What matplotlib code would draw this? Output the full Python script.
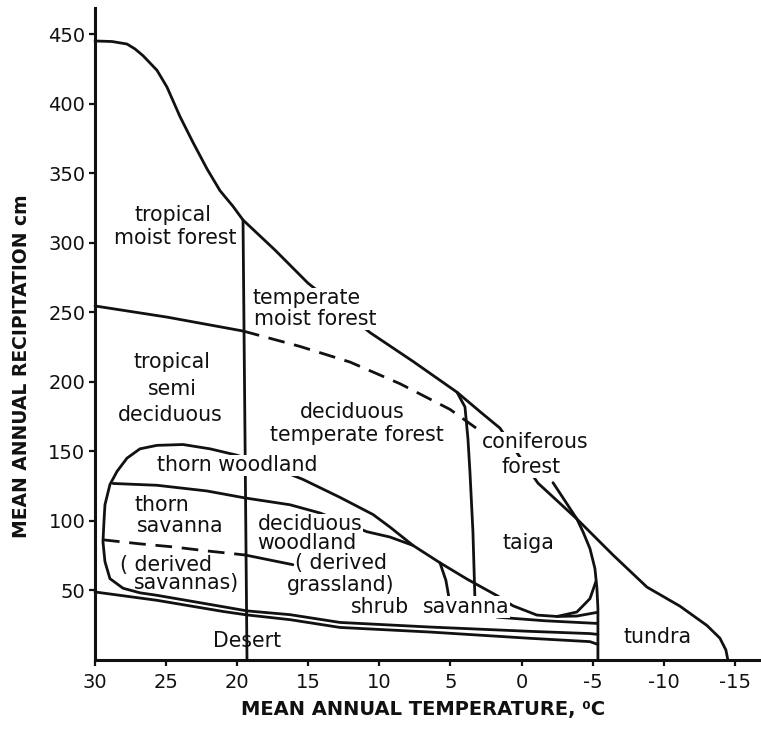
import matplotlib
matplotlib.use("Agg")
import matplotlib.pyplot as plt

# ---------------- data (temperature degC, precipitation cm) ----------------
# upper envelope (tropical moist forest ... tundra)
upper_t = [30, 28.8, 27.75, 27.19, 26.62, 25.64, 24.94, 24.02, 23.11, 22.12, 21.21, 20.30, 19.59,
           17.34, 15.02, 12.77, 10.66, 7.64, 4.54, 2.93, 1.52, -1.15, -3.89, -6.43,
           -8.82, -11.14, -13.04, -13.95, -14.37, -14.51]
upper_p = [445, 444.6, 442.8, 439.3, 434.4, 423.9, 411.9, 390.6, 372.1, 353.0, 337.4, 326.2, 316.3,
           294.7, 270.9, 252.8, 235.4, 214.7, 192.5, 178.6, 166.7, 127.2, 101.4, 75.5,
           52.4, 38.7, 24.8, 15.7, 7.2, 0]

# ~250 cm boundary: solid part and dashed part
c_solid_t = [30, 24.94, 19.59]
c_solid_p = [254.5, 246.5, 236.5]
c_dash_t = [19.59, 15.58, 12.07, 8.55, 5.04, 3.14]
c_dash_p = [236.5, 225.4, 214.2, 198.6, 180.2, 166.3]

# vertical-ish divider near 19.5 degC
v1_t = [19.59, 19.45, 19.31]
v1_p = [316.3, 159.6, 0]

# divider near 4 degC
v2_t = [4.54, 3.98, 3.77, 3.63, 3.42, 3.28]
v2_p = [192.5, 181.9, 159.0, 135.2, 92.2, 44.1]

# taiga / tundra divider (-5 degC)
taiga_t = [-2.21, -3.89, -4.32, -4.81, -5.16, -5.30, -5.37, -5.37]
taiga_p = [127.5, 101.4, 92.2, 80.1, 65.8, 51.5, 37.1, 0]

# outer boundary of the dry (thorn / deciduous woodland) region
dry_t = [-5.37, -4.81, -0.59, 6.44, 12.77, 16.29, 19.31, 22.12, 25.64, 26.84, 28.03,
         28.95, 29.30, 29.44, 29.37, 29.30, 28.95, 28.45, 27.75, 26.84, 25.64, 23.81,
         21.91, 20.01, 17.69, 15.37, 12.77, 10.45, 9.26, 7.64, 5.74, 3.84, 1.66, 0.61,
         -1.08, -2.49, -3.89, -4.81, -5.23]
dry_p = [18.4, 19.0, 20.6, 23.7, 27.0, 32.6, 35.3, 40.3, 46.5, 48.3, 51.6,
         58.5, 70.7, 85.0, 99.4, 111.6, 126.1, 135.6, 145.1, 151.8, 154.3, 154.9,
         151.8, 147.2, 139.3, 129.8, 116.9, 104.6, 95.6, 82.4, 69.9, 58.2, 45.9, 39.0,
         32.3, 31.3, 34.5, 44.1, 56.4]

# thorn savanna / thorn woodland divider
l2_t = [28.73, 25.64, 22.12, 19.45, 16.29, 14.18, 10.87, 9.26, 7.64]
l2_p = [126.9, 125.6, 121.5, 116.5, 111.6, 105.7, 92.2, 88.4, 82.4]

# shrub / savanna divider
s_t = [5.74, 5.32, 5.11]
s_p = [69.9, 57.2, 45.0]

# derived savanna / grassland line (dashed, then solid)
d3_dash_t = [29.44, 26.84, 24.51, 22.12, 19.45]
d3_dash_p = [86.4, 83.5, 81.3, 78.4, 75.5]
d3_solid_t = [19.45, 16.08]
d3_solid_p = [75.5, 68.5]

# short lines joining the -5 degC divider
e1_t = [-2.49, -3.89, -5.30]
e1_p = [31.3, 31.6, 34.2]
e2_t = [1.73, -1.64, -5.30]
e2_p = [30.8, 28.2, 26.3]

# desert upper boundary
desert_t = [30, 25.64, 21.0, 19.31, 16.29, 12.77, 6.44, -0.59, -4.81, -5.37]
desert_p = [48.9, 42.9, 34.9, 32.4, 29.0, 23.4, 20.1, 15.6, 13.2, 11.2]

x_ticks = [30, 25, 20, 15, 10, 5, 0, -5, -10, -15]
x_tick_labels = ["30", "25", "20", "15", "10", "5", "0", "-5", "-10", "-15"]
y_ticks = [50, 100, 150, 200, 250, 300, 350, 400, 450]
y_tick_labels = ["50", "100", "150", "200", "250", "300", "350", "400", "450"]

labels = [
    ("tropical", 24.51, 320.0, False),
    ("moist forest", 24.37, 303.5, False),
    ("temperate", 15.09, 260.0, True),
    ("moist forest", 14.53, 245.1, True),
    ("tropical", 24.59, 214.3, False),
    ("semi", 24.59, 194.9, False),
    ("deciduous", 24.73, 176.1, False),
    ("deciduous", 11.93, 178.2, False),
    ("temperate forest", 11.58, 161.8, False),
    ("coniferous", -0.94, 156.6, True),
    ("forest", -0.66, 138.6, True),
    ("thorn woodland", 20.01, 140.0, True),
    ("thorn", 25.29, 111.3, False),
    ("savanna", 24.02, 96.5, False),
    ("deciduous", 14.88, 97.6, True),
    ("woodland", 15.09, 83.9, False),
    ("( derived", 25.01, 68.2, False),
    ("savannas)", 23.53, 55.0, False),
    ("( derived", 12.70, 69.4, False),
    ("grassland)", 12.70, 53.6, False),
    ("shrub", 9.96, 37.9, False),
    ("savanna", 3.91, 38.1, True),
    ("Desert", 19.31, 13.7, False),
    ("taiga", -0.45, 83.9, False),
    ("tundra", -9.59, 16.7, False),
]

# ---------------- figure ----------------
plt.rcParams["font.family"] = ["DejaVu Sans"]
fig = plt.figure(figsize=(7.61, 7.33), dpi=100)
ax = fig.add_axes([0.12484, 0.09959, 0.87516, 0.8895])
ax.set_xlim(30, -16.84)
ax.set_ylim(0, 468.7)

lw = 2.0
col = "#111111"
solid = dict(color=col, lw=lw, solid_capstyle="round", solid_joinstyle="round", clip_on=False)
dashed = dict(color=col, lw=lw, linestyle=(0, (6, 3.5)), clip_on=False)

ax.plot(upper_t, upper_p, **solid)
ax.plot(c_solid_t, c_solid_p, **solid)
ax.plot(c_dash_t, c_dash_p, **dashed)
ax.plot(v1_t, v1_p, **solid)
ax.plot(v2_t, v2_p, **solid)
ax.plot(taiga_t, taiga_p, **solid)
ax.plot(dry_t, dry_p, **solid)
ax.plot(l2_t, l2_p, **solid)
ax.plot(s_t, s_p, **solid)
ax.plot(d3_dash_t, d3_dash_p, **dashed)
ax.plot(d3_solid_t, d3_solid_p, **solid)
ax.plot(e1_t, e1_p, **solid)
ax.plot(e2_t, e2_p, **solid)
ax.plot(desert_t, desert_p, **solid)

for txt, t, p, boxed in labels:
    kw = {}
    if boxed:
        kw["bbox"] = dict(facecolor="white", edgecolor="none", pad=0.5)
    ax.text(t, p, txt, fontsize=14.8, ha="center", va="center", color=col, **kw)

for s in ["top", "right"]:
    ax.spines[s].set_visible(False)
for s in ["left", "bottom"]:
    ax.spines[s].set_linewidth(2.2)
    ax.spines[s].set_color(col)

ax.set_xticks(x_ticks)
ax.set_xticklabels(x_tick_labels)
ax.set_yticks(y_ticks)
ax.set_yticklabels(y_tick_labels)
ax.tick_params(axis="x", direction="out", length=4, width=1.6, pad=5, labelsize=14, colors=col)
ax.tick_params(axis="y", direction="out", length=4.5, width=1.6, pad=2.5, labelsize=14, colors=col)

fig.text(0.556, 0.0327, "MEAN ANNUAL TEMPERATURE, \u2070C", fontsize=14, fontweight="bold",
         ha="center", va="center", color=col)
fig.text(0.0276, 0.5007, "MEAN ANNUAL RECIPITATION cm", fontsize=13.5, fontweight="bold",
         ha="center", va="center", rotation=90, color=col)

fig.savefig("out.png", dpi=100, facecolor="white")
